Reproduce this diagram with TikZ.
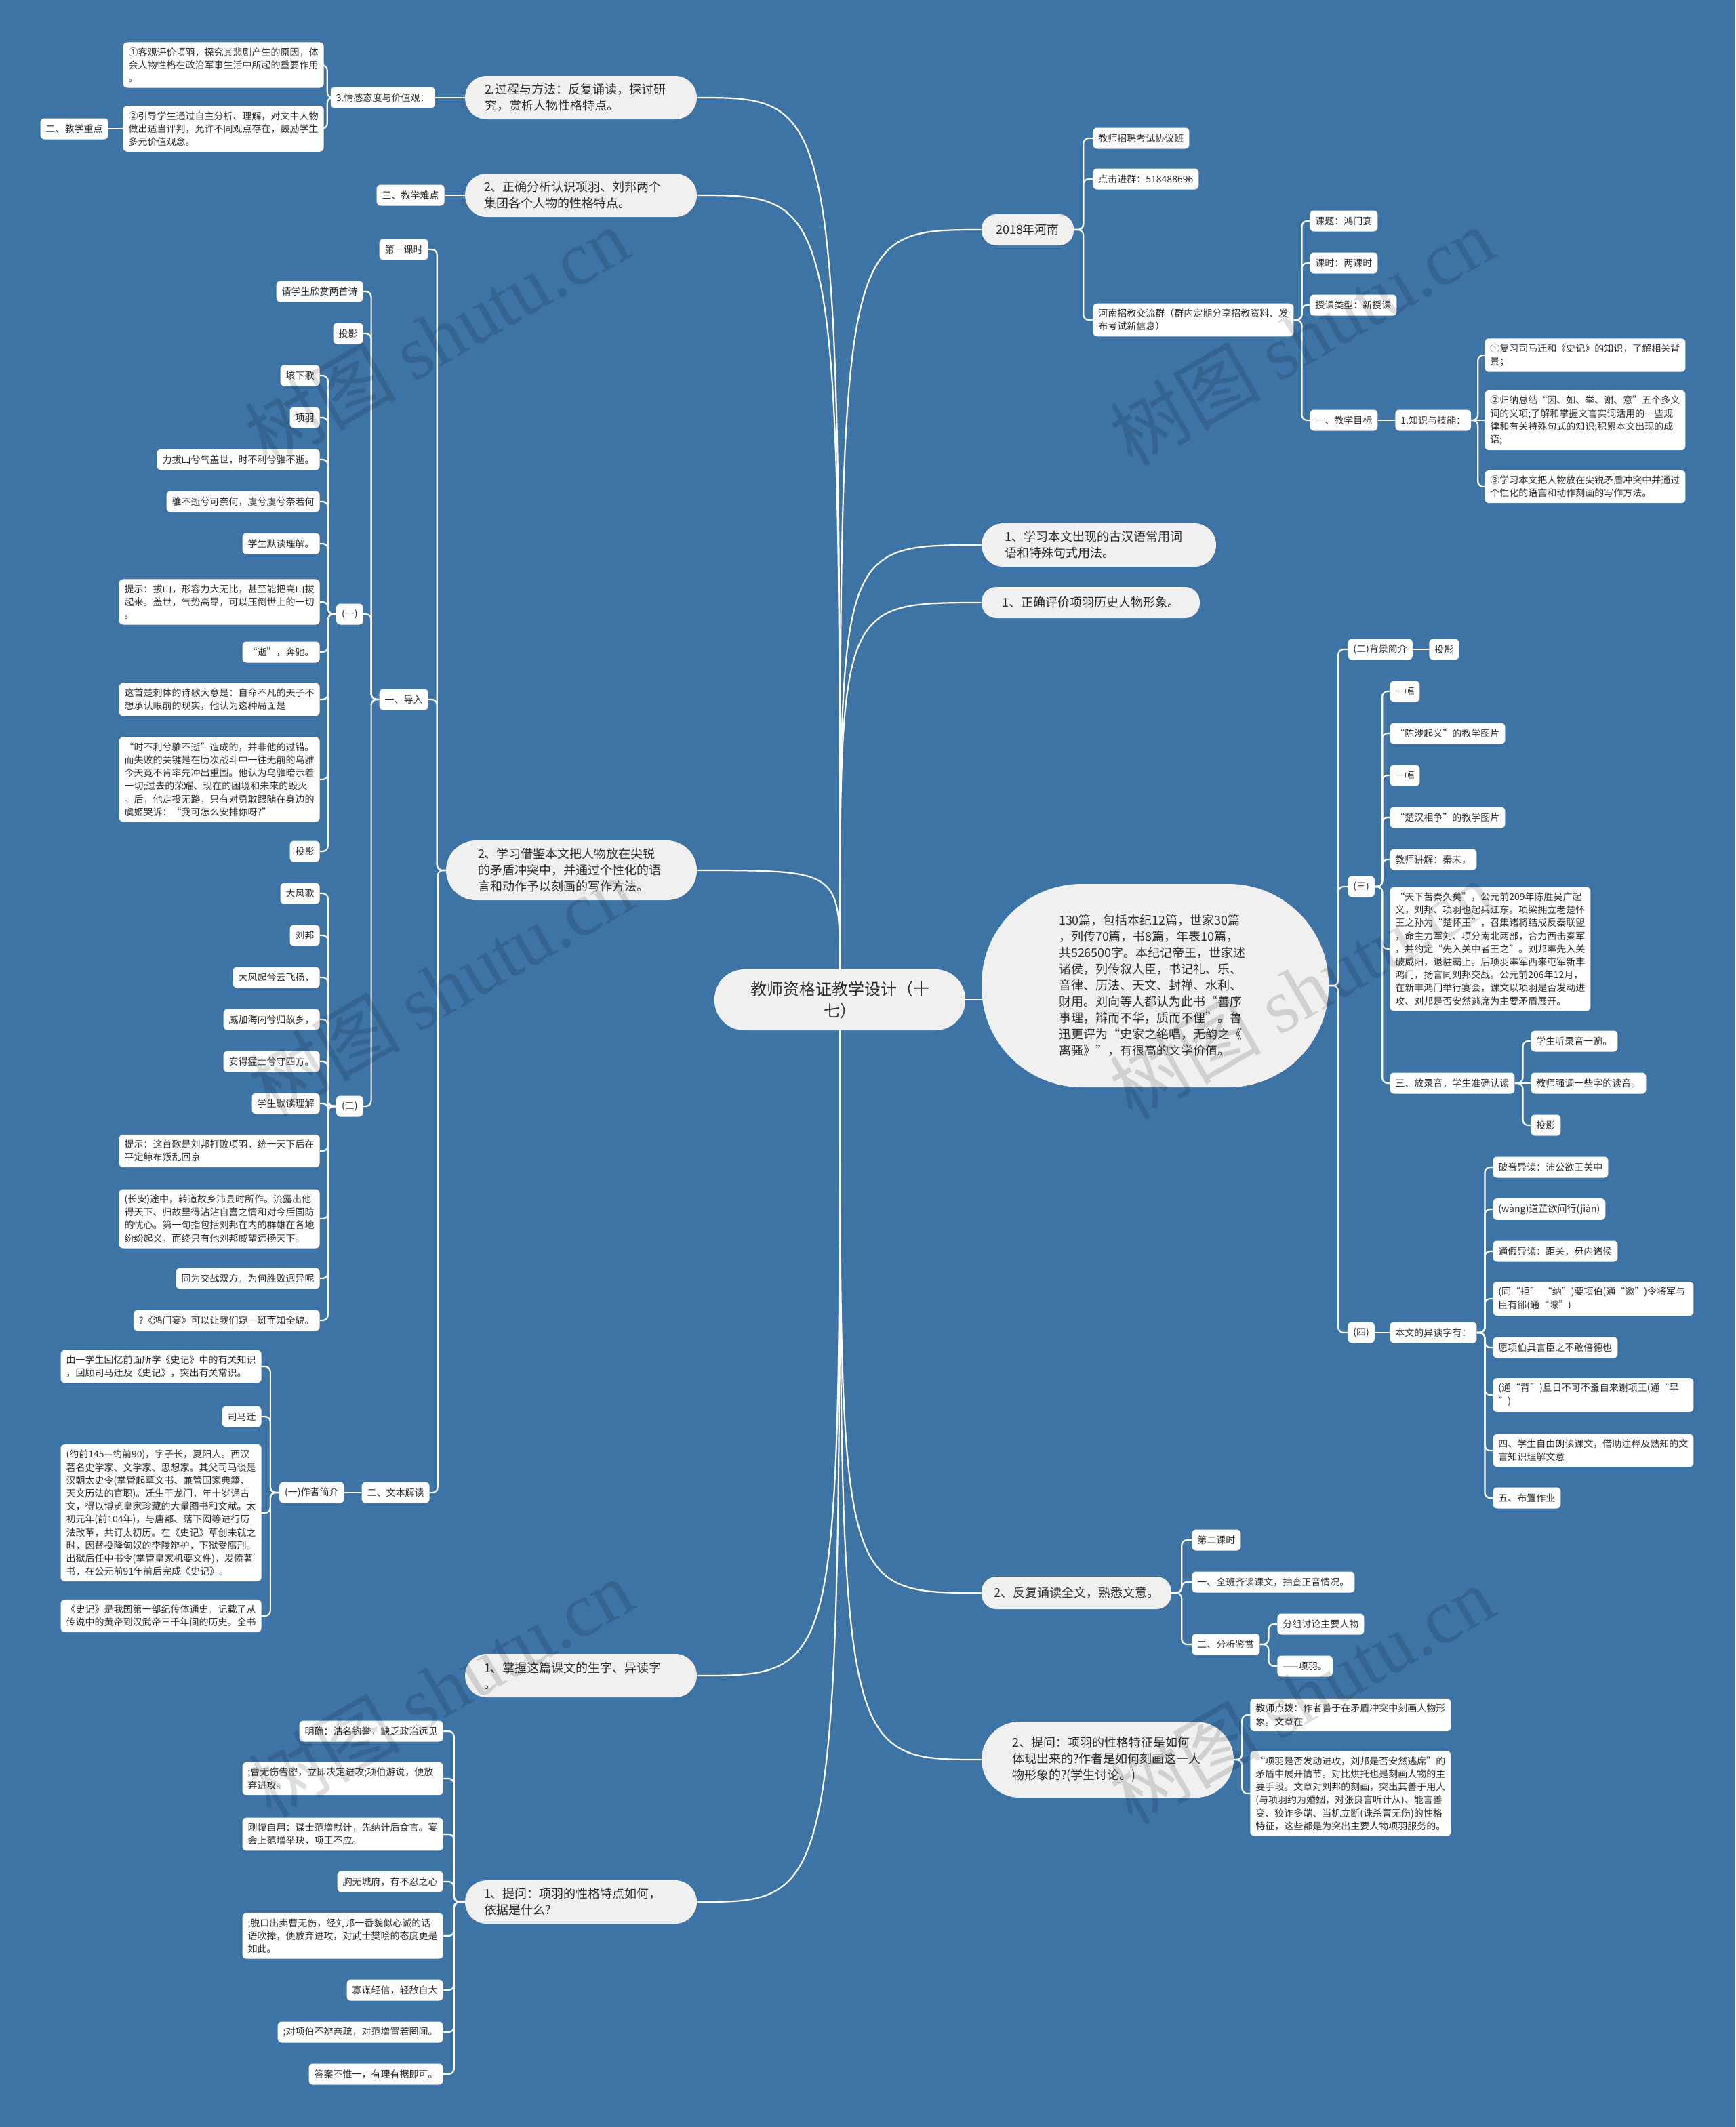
\documentclass[tikz,border=0pt]{standalone}
\usepackage{fontspec}
\newfontfamily\cjk{Noto Sans CJK SC}
\newfontfamily\wmfont{Liberation Serif}
\usetikzlibrary{calc}
\definecolor{bgblue}{RGB}{62,115,166}
\definecolor{pillc}{RGB}{240,240,240}
\definecolor{txt}{RGB}{45,45,45}
\pgfdeclarelayer{bg}
\pgfdeclarelayer{edges}
\pgfdeclarelayer{fg}
\pgfsetlayers{bg,edges,main,fg}
\tikzset{
  leaf/.style={fill=white, rounded corners=3pt, font=\cjk\fontsize{7}{9.6}\selectfont, text=txt,
    inner xsep=4pt, inner ysep=4pt, align=left, minimum height=15.5pt},
  leafm/.style={leaf, text width=140pt},
  pill/.style={fill=pillc, text=txt, inner sep=0pt, font=\cjk\fontsize{9}{12}\selectfont},
  link/.style={draw=white, line width=1.1pt, rounded corners=4pt},
  rlink/.style={draw=white, line width=1.1pt},
  wm/.style={text=black, text opacity=0.13, rotate=30, inner sep=0pt}
}
\newcommand\leafL[4]{\node[leaf,anchor=east] (#1) at (#2,#3) {#4};}
\newcommand\leafR[4]{\node[leaf,anchor=west] (#1) at (#2,#3) {#4};}
\newcommand\leafLm[4]{\node[leafm,anchor=east] (#1) at (#2,#3) {#4};}
\newcommand\leafRm[4]{\node[leafm,anchor=west] (#1) at (#2,#3) {#4};}
\newcommand\pillN[8]{\node[pill, minimum width=#4pt, minimum height=#5pt, rounded corners=#6pt, text width=#7pt, align=left] (#1) at (#2,#3) {#8};}
\newcommand\pillS[6]{\node[pill, minimum width=#4pt, minimum height=#5pt, rounded corners=11pt] (#1) at (#2,#3) {#6};}
\newcommand\RC[2]{\draw[link] let \p1=(#1.east), \p2=(#2.west) in (\p1) -- ({(\x1+\x2)/2},\y1) |- (\p2);}
\newcommand\LC[2]{\draw[link] let \p1=(#1.west), \p2=(#2.east) in (\p1) -- ({(\x1+\x2)/2},\y1) |- (\p2);}
\newcommand\RS[2]{\draw[rlink] (#1.east) -- (#2.west);}
\newcommand\LS[2]{\draw[rlink] (#1.west) -- (#2.east);}
\newcommand\rlk[2]{\draw[rlink] let \p1=(#1), \p2=(#2) in (\p1) .. controls (\x1,\y2) .. (\p2);}
\begin{document}
\begin{tikzpicture}[x=1pt,y=-1pt]
\begin{pgfonlayer}{bg}
\fill[bgblue] (0,0) rectangle (1280,1569);
\end{pgfonlayer}
\useasboundingbox (0,0) rectangle (1280,1569);

% root
\node[pill, font=\cjk\fontsize{12}{16}\selectfont, minimum width=185pt, minimum height=45pt, rounded corners=22pt, align=center] (root) at (619.5,737.5) {教师资格证教学设计（十\\七）};

% level-1 pills, left
\pillN{P1}{428.5}{72}{171}{32}{16}{142}{2.过程与方法：反复诵读，探讨研\\究，赏析人物性格特点。}
\pillN{P2}{428.5}{144}{171}{32}{16}{143}{2、正确分析认识项羽、刘邦两个\\集团各个人物的性格特点。}
\pillN{P3}{421.5}{642}{185}{44}{22}{138}{2、学习借鉴本文把人物放在尖锐\\的矛盾冲突中，并通过个性化的语\\言和动作予以刻画的写作方法。}
\pillN{P4}{428.5}{1236}{171}{32}{16}{143}{1、掌握这篇课文的生字、异读字\\。}
\pillN{P5}{428.5}{1403}{171}{32}{16}{143}{1、提问：项羽的性格特点如何，\\依据是什么?}
% level-1 pills, right
\pillS{P6}{758}{169.5}{68}{23}{2018年河南}
\pillN{P7}{810.5}{402}{173}{32}{16}{139}{1、学习本文出现的古汉语常用词\\语和特殊句式用法。}
\pillS{P8}{804.5}{444.5}{161}{23}{1、正确评价项羽历史人物形象。}
\pillN{P9}{852}{727}{256}{150}{74}{142}{130篇，包括本纪12篇，世家30篇\\，列传70篇，书8篇，年表10篇，\\共526500字。本纪记帝王，世家述\\诸侯，列传叙人臣，书记礼、乐、\\音律、历法、天文、封禅、水利、\\财用。刘向等人都认为此书“善序\\事理，辩而不华，质而不俚”。鲁\\迅更评为“史家之绝唱，无韵之《\\离骚》”，有很高的文学价值。}
\pillS{P10}{794}{1175}{140}{24}{2、反复诵读全文，熟悉文意。}
\pillN{P11}{817}{1298}{186}{56}{28}{141}{2、提问：项羽的性格特征是如何\\体现出来的?作者是如何刻画这一人\\物形象的?(学生讨论。)}

% top left
\leafL{LA0}{321}{72}{3.情感态度与价值观：}
\leafLm{LA1}{239}{48}{①客观评价项羽，探究其悲剧产生的原因，体\\会人物性格在政治军事生活中所起的重要作用\\。}
\leafLm{LA2}{239}{95}{②引导学生通过自主分析、理解，对文中人物\\做出适当评判，允许不同观点存在，鼓励学生\\多元价值观念。}
\leafL{LA3}{80}{95}{二、教学重点}
\leafL{LB0}{328}{144}{三、教学难点}

% 2、学习借鉴 branch
\leafL{K1}{316}{184}{第一课时}
\leafL{K2}{316}{516}{一、导入}
\leafL{K3}{317}{1101}{二、文本解读}
\leafL{D1}{268}{215}{请学生欣赏两首诗}
\leafL{D2}{268}{246}{投影}
\leafL{D3}{268}{453}{(一)}
\leafL{D4}{268}{816}{(二)}

\leafL{E1}{236}{277}{垓下歌}
\leafL{E2}{236}{308}{项羽}
\leafL{E3}{236}{339}{力拔山兮气盖世，时不利兮骓不逝。}
\leafL{E4}{236}{370}{骓不逝兮可奈何，虞兮虞兮奈若何}
\leafL{E5}{236}{401}{学生默读理解。}
\leafLm{E6}{236}{444}{提示：拔山，形容力大无比，甚至能把高山拔\\起来。盖世，气势高昂，可以压倒世上的一切\\。}
\leafL{E7}{236}{481}{“逝”，奔驰。}
\leafLm{E8}{236}{516}{这首楚刺体的诗歌大意是：自命不凡的天子不\\想承认眼前的现实，他认为这种局面是}
\leafLm{E9}{236}{575}{“时不利兮骓不逝”造成的，并非他的过错。\\而失败的关键是在历次战斗中一往无前的乌骓\\今天竟不肯率先冲出重围。他认为乌骓暗示着\\一切;过去的荣耀、现在的困境和未来的毁灭\\。后，他走投无路，只有对勇敢跟随在身边的\\虞姬哭诉：“我可怎么安排你呀?”}
\leafL{E10}{236}{628}{投影}

\leafL{F1}{236}{659}{大风歌}
\leafL{F2}{236}{690}{刘邦}
\leafL{F3}{236}{721}{大风起兮云飞扬，}
\leafL{F4}{236}{752}{威加海内兮归故乡，}
\leafL{F5}{236}{783}{安得猛士兮守四方。}
\leafL{F6}{236}{814}{学生默读理解}
\leafLm{F7}{236}{849}{提示：这首歌是刘邦打败项羽，统一天下后在\\平定鲸布叛乱回京}
\leafLm{F8}{236}{899}{(长安)途中，转道故乡沛县时所作。流露出他\\得天下、归故里得沾沾自喜之情和对今后国防\\的忧心。第一句指包括刘邦在内的群雄在各地\\纷纷起义，而终只有他刘邦威望远扬天下。}
\leafL{F9}{236}{943}{同为交战双方，为何胜败迥异呢}
\leafL{F10}{236}{974}{?《鸿门宴》可以让我们窥一斑而知全貌。}

\leafL{G0}{254}{1101}{(一)作者简介}
\leafLm{G1}{193}{1008}{由一学生回忆前面所学《史记》中的有关知识\\，回顾司马迁及《史记》，突出有关常识。}
\leafL{G2}{193}{1045}{司马迁}
\leafLm{G3}{193}{1116}{(约前145—约前90)，字子长，夏阳人。西汉\\著名史学家、文学家、思想家。其父司马谈是\\汉朝太史令(掌管起草文书、兼管国家典籍、\\天文历法的官职)。迁生于龙门，年十岁诵古\\文，得以博览皇家珍藏的大量图书和文献。太\\初元年(前104年)，与唐都、落下闳等进行历\\法改革，共订太初历。在《史记》草创未就之\\时，因替投降匈奴的李陵辩护，下狱受腐刑。\\出狱后任中书令(掌管皇家机要文件)，发愤著\\书，在公元前91年前后完成《史记》。}
\leafLm{G4}{193}{1192}{《史记》是我国第一部纪传体通史，记载了从\\传说中的黄帝到汉武帝三千年间的历史。全书}

% 1、提问 branch
\leafL{H1}{327}{1277}{明确：沽名钓誉，缺乏政治远见}
\leafLm{H2}{327}{1312}{;曹无伤告密，立即决定进攻;项伯游说，便放\\弃进攻。}
\leafLm{H3}{327}{1353}{刚愎自用：谋士范增献计，先纳计后食言。宴\\会上范增举玦，项王不应。}
\leafL{H4}{327}{1388}{胸无城府，有不忍之心}
\leafLm{H5}{327}{1428}{;脱口出卖曹无伤，经刘邦一番貌似心诚的话\\语吹捧，便放弃进攻，对武士樊哙的态度更是\\如此。}
\leafL{H6}{327}{1468}{寡谋轻信，轻敌自大}
\leafL{H7}{327}{1499}{;对项伯不辨亲疏，对范增置若罔闻。}
\leafL{H8}{327}{1530}{答案不惟一，有理有据即可。}

% right: 2018年河南
\leafR{R1}{806}{102}{教师招聘考试协议班}
\leafR{R2}{806}{132}{点击进群：518488696}
\leafRm{R3}{806}{236}{河南招教交流群（群内定期分享招教资料、发\\布考试新信息）}
\leafR{R4}{966}{163}{课题：鸿门宴}
\leafR{R5}{966}{194}{课时：两课时}
\leafR{R6}{966}{225}{授课类型：新授课}
\leafR{R7}{966}{310}{一、教学目标}
\leafR{R8}{1029}{310}{1.知识与技能：}
\leafRm{R9}{1095}{262}{①复习司马迁和《史记》的知识，了解相关背\\景；}
\leafRm{R10}{1095}{310}{②归纳总结“因、如、举、谢、意”五个多义\\词的义项;了解和掌握文言实词活用的一些规\\律和有关特殊句式的知识;积累本文出现的成\\语;}
\leafRm{R11}{1095}{359}{③学习本文把人物放在尖锐矛盾冲突中并通过\\个性化的语言和动作刻画的写作方法。}

% right: 130篇
\leafR{S1}{994}{479}{(二)背景简介}
\leafR{S1a}{1054}{479}{投影}
\leafR{S2}{994}{654}{(三)}
\leafR{S3}{994}{983}{(四)}
\leafR{T1}{1025}{510}{一幅}
\leafR{T2}{1025}{541}{“陈涉起义”的教学图片}
\leafR{T3}{1025}{572}{一幅}
\leafR{T4}{1025}{603}{“楚汉相争”的教学图片}
\leafR{T5}{1025}{634}{教师讲解：秦末，}
\leafRm{T6}{1025}{700}{“天下苦秦久矣”，公元前209年陈胜吴广起\\义，刘邦、项羽也起兵江东。项梁拥立老楚怀\\王之孙为“楚怀王”，召集诸将结成反秦联盟\\，命主力军刘、项分南北两部，合力西击秦军\\，并约定“先入关中者王之”。刘邦率先入关\\破咸阳，退驻霸上。后项羽率军西来屯军新丰\\鸿门，扬言同刘邦交战。公元前206年12月，\\在新丰鸿门举行宴会，课文以项羽是否发动进\\攻、刘邦是否安然逃席为主要矛盾展开。}
\leafR{T7}{1025}{799}{三、放录音，学生准确认读}
\leafR{T8}{1129}{768}{学生听录音一遍。}
\leafR{T9}{1129}{799}{教师强调一些字的读音。}
\leafR{T10}{1129}{830}{投影}
\leafR{U0}{1025}{983}{本文的异读字有：}
\leafR{U1}{1101}{861}{破音异读：沛公欲王关中}
\leafR{U2}{1101}{892}{(wàng)道芷欲间行(jiàn)}
\leafR{U3}{1101}{923}{通假异读：距关，毋内诸侯}
\leafRm{U4}{1101}{958}{(同“拒” “纳”)要项伯(通“邀”)令将军与\\臣有郤(通“隙”)}
\leafR{U5}{1101}{994}{愿项伯具言臣之不敢倍德也}
\leafRm{U6}{1101}{1029}{(通“背”)旦日不可不蚤自来谢项王(通“早\\”)}
\leafRm{U7}{1101}{1070}{四、学生自由朗读课文，借助注释及熟知的文\\言知识理解文意}
\leafR{U8}{1101}{1105}{五、布置作业}

% right: 2、反复诵读
\leafR{V1}{879}{1136}{第二课时}
\leafR{V2}{879}{1167}{一、全班齐读课文，抽查正音情况。}
\leafR{V3}{879}{1213}{二、分析鉴赏}
\leafR{V4}{942}{1198}{分组讨论主要人物}
\leafR{V5}{942}{1229}{——项羽。}

% right: 2、提问
\leafRm{W1}{922}{1265}{教师点拨：作者善于在矛盾冲突中刻画人物形\\象。文章在}
\leafRm{W2}{922}{1323}{“项羽是否发动进攻，刘邦是否安然逃席”的\\矛盾中展开情节。对比烘托也是刻画人物的主\\要手段。文章对刘邦的刻画，突出其善于用人\\(与项羽约为婚姻，对张良言听计从)、能言善\\变、狡诈多端、当机立断(诛杀曹无伤)的性格\\特征，这些都是为突出主要人物项羽服务的。}

\begin{pgfonlayer}{edges}
% root links
\rlk{root.north}{P1.east}
\rlk{root.north}{P2.east}
\rlk{root.north}{P3.east}
\rlk{root.south}{P4.east}
\rlk{root.south}{P5.east}
\rlk{root.north}{P6.west}
\rlk{root.north}{P7.west}
\rlk{root.north}{P8.west}
\draw[rlink] (root.east) -- (P9.west |- root.east);
\rlk{root.south}{P10.west}
\rlk{root.south}{P11.west}
% left groups
\LS{P1}{LA0}
\LC{LA0}{LA1}
\LC{LA0}{LA2}
\LS{LA2}{LA3}
\LS{P2}{LB0}
\foreach \c in {K1,K2,K3} {\LC{P3}{\c}}
\foreach \c in {D1,D2,D3,D4} {\LC{K2}{\c}}
\foreach \c in {E1,E2,E3,E4,E5,E6,E7,E8,E9,E10} {\LC{D3}{\c}}
\foreach \c in {F1,F2,F3,F4,F5,F6,F7,F8,F9,F10} {\LC{D4}{\c}}
\LS{K3}{G0}
\foreach \c in {G1,G2,G3,G4} {\LC{G0}{\c}}
\foreach \c in {H1,H2,H3,H4,H5,H6,H7,H8} {\LC{P5}{\c}}
% right groups
\foreach \c in {R1,R2,R3} {\RC{P6}{\c}}
\foreach \c in {R4,R5,R6,R7} {\RC{R3}{\c}}
\RS{R7}{R8}
\RC{R8}{R9}
\RS{R8}{R10}
\RC{R8}{R11}
\foreach \c in {S1,S2,S3} {\RC{P9}{\c}}
\RS{S1}{S1a}
\foreach \c in {T1,T2,T3,T4,T5,T6,T7} {\RC{S2}{\c}}
\RC{T7}{T8}
\RS{T7}{T9}
\RC{T7}{T10}
\RS{S3}{U0}
\foreach \c in {U1,U2,U3,U4,U5,U6,U7,U8} {\RC{U0}{\c}}
\foreach \c in {V1,V2,V3} {\RC{P10}{\c}}
\foreach \c in {V4,V5} {\RC{V3}{\c}}
\foreach \c in {W1,W2} {\RC{P11}{\c}}
\end{pgfonlayer}

\begin{pgfonlayer}{fg}
\foreach \x/\y in {322/248, 960/248, 325/728, 960/730, 325/1245, 960/1250}
  {\node[wm] at (\x,\y) {\cjk\fontsize{56}{56}\selectfont 树图 \wmfont shutu.cn};}
\end{pgfonlayer}
\end{tikzpicture}
\end{document}
